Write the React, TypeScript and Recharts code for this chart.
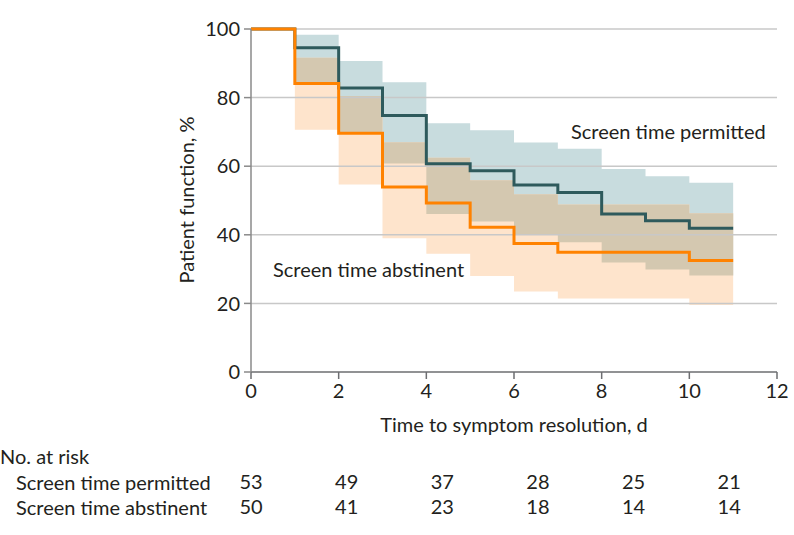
import { Area, ComposedChart, Line, ReferenceLine, XAxis, YAxis } from 'recharts';

const days = [0, 1, 2, 3, 4, 5, 6, 7, 8, 9, 10, 11];

const permitted = [100, 94.5, 82.8, 74.8, 60.7, 58.7, 54.5, 52.3, 46.1, 44.1, 41.9, 41.9];
const permittedUpper = [100, 98.3, 90.7, 84.5, 72.5, 70.5, 66.9, 65.1, 59.2, 57.1, 55.2, 55.2];
const permittedLower = [100, 84.3, 70, 60.8, 46.1, 43.9, 40, 37.8, 31.9, 29.9, 28.1, 28.1];

const abstinent = [100, 84.1, 69.6, 53.9, 49.3, 42.2, 37.5, 34.9, 34.9, 34.9, 32.5, 32.5];
const abstinentUpper = [100, 91.6, 80.5, 67, 62.5, 55.9, 51.8, 48.8, 48.8, 48.8, 46.3, 46.3];
const abstinentLower = [100, 70.6, 54.7, 39, 34.5, 28, 23.5, 21.4, 21.4, 21.4, 19.5, 19.5];

const xTicks = [0, 2, 4, 6, 8, 10, 12];
const yTicks = [0, 20, 40, 60, 80, 100];

const riskDays = [0, 2, 4, 6, 8, 10];
const riskPermitted = [53, 49, 37, 28, 25, 21];
const riskAbstinent = [50, 41, 23, 18, 14, 14];

const FONT = 'Lato, "Open Sans", sans-serif';
const FS = 20;
const TEXT = '#231f20';

const data = days.map((day, i) => {
  const lo = Math.max(permittedLower[i], abstinentLower[i]);
  const hi = Math.min(permittedUpper[i], abstinentUpper[i]);
  return {
    day,
    permitted: permitted[i],
    abstinent: abstinent[i],
    pBand: [permittedLower[i], permittedUpper[i]],
    aBand: [abstinentLower[i], abstinentUpper[i]],
    both: hi > lo ? [lo, hi] : [lo, lo],
  };
});

const tickStyle = { fontSize: FS, fill: TEXT, fontFamily: FONT };
const textStyle = { position: 'absolute' as const, fontSize: FS, whiteSpace: 'nowrap' as const, lineHeight: '26px' };

export default function App() {
  return (
    <div style={{ position: 'absolute', left: 0, top: 0, width: 794, height: 535, fontFamily: FONT, color: TEXT }}>
      <ComposedChart width={794} height={535} data={data} margin={{ top: 29, right: 17, left: 0, bottom: 28 }}>
        <XAxis
          dataKey="day"
          type="number"
          domain={[0, 12]}
          ticks={xTicks}
          height={60}
          tickSize={7}
          tickMargin={5}
          tick={tickStyle}
          stroke="#6d6e71"
          strokeWidth={1.5}
          label={{
            content: () => (
              <text x={514} y={424} textAnchor="middle" dominantBaseline="central" fontSize={FS} fill={TEXT} fontFamily={FONT}>
                Time to symptom resolution, d
              </text>
            ),
          }}
        />
        <XAxis
          xAxisId="r1Permitted"
          type="number"
          domain={[0, 12]}
          allowDataOverflow
          ticks={riskDays}
          height={50}
          tickSize={0}
          tickMargin={43}
          axisLine={false}
          tickLine={false}
          tick={tickStyle}
          tickFormatter={(d: number) => String(riskPermitted[riskDays.indexOf(d)])}
        />
        <XAxis
          xAxisId="r2Abstinent"
          type="number"
          domain={[0, 12]}
          allowDataOverflow
          ticks={riskDays}
          height={25}
          tickSize={0}
          tickMargin={18}
          axisLine={false}
          tickLine={false}
          tick={tickStyle}
          tickFormatter={(d: number) => String(riskAbstinent[riskDays.indexOf(d)])}
        />
        <YAxis
          type="number"
          domain={[0, 100]}
          ticks={yTicks}
          width={251}
          tickSize={7}
          tickMargin={4}
          tick={tickStyle}
          stroke="#8a8a8a"
          strokeWidth={1.5}
          label={{
            content: () => (
              <text
                x={186}
                y={200}
                transform="rotate(-90 186 200)"
                textAnchor="middle"
                dominantBaseline="central"
                fontSize={FS}
                fill={TEXT}
                fontFamily={FONT}
              >
                Patient function, %
              </text>
            ),
          }}
        />
        <Area dataKey="pBand" type="stepAfter" stroke="none" fill="#c8dcde" fillOpacity={1} isAnimationActive={false} activeDot={false} />
        <Area dataKey="aBand" type="stepAfter" stroke="none" fill="#fee4cc" fillOpacity={1} isAnimationActive={false} activeDot={false} />
        <Area dataKey="both" type="stepAfter" stroke="none" fill="#d4c8b0" fillOpacity={1} isAnimationActive={false} activeDot={false} />
        {yTicks.slice(1).map((v) => (
          <ReferenceLine key={v} y={v} stroke="#c8c8c8" strokeWidth={1.5} />
        ))}
        <Line dataKey="permitted" type="stepAfter" stroke="#2e5a5c" strokeWidth={3} dot={false} activeDot={false} isAnimationActive={false} />
        <Line dataKey="abstinent" type="stepAfter" stroke="#ff8200" strokeWidth={3} dot={false} activeDot={false} isAnimationActive={false} />
      </ComposedChart>
      <div style={{ ...textStyle, left: 571, top: 118 }}>Screen time permitted</div>
      <div style={{ ...textStyle, left: 273, top: 256 }}>Screen time abstinent</div>
      <div style={{ ...textStyle, left: 0, top: 443 }}>No. at risk</div>
      <div style={{ ...textStyle, left: 16, top: 469 }}>Screen time permitted</div>
      <div style={{ ...textStyle, left: 16, top: 494 }}>Screen time abstinent</div>
    </div>
  );
}
